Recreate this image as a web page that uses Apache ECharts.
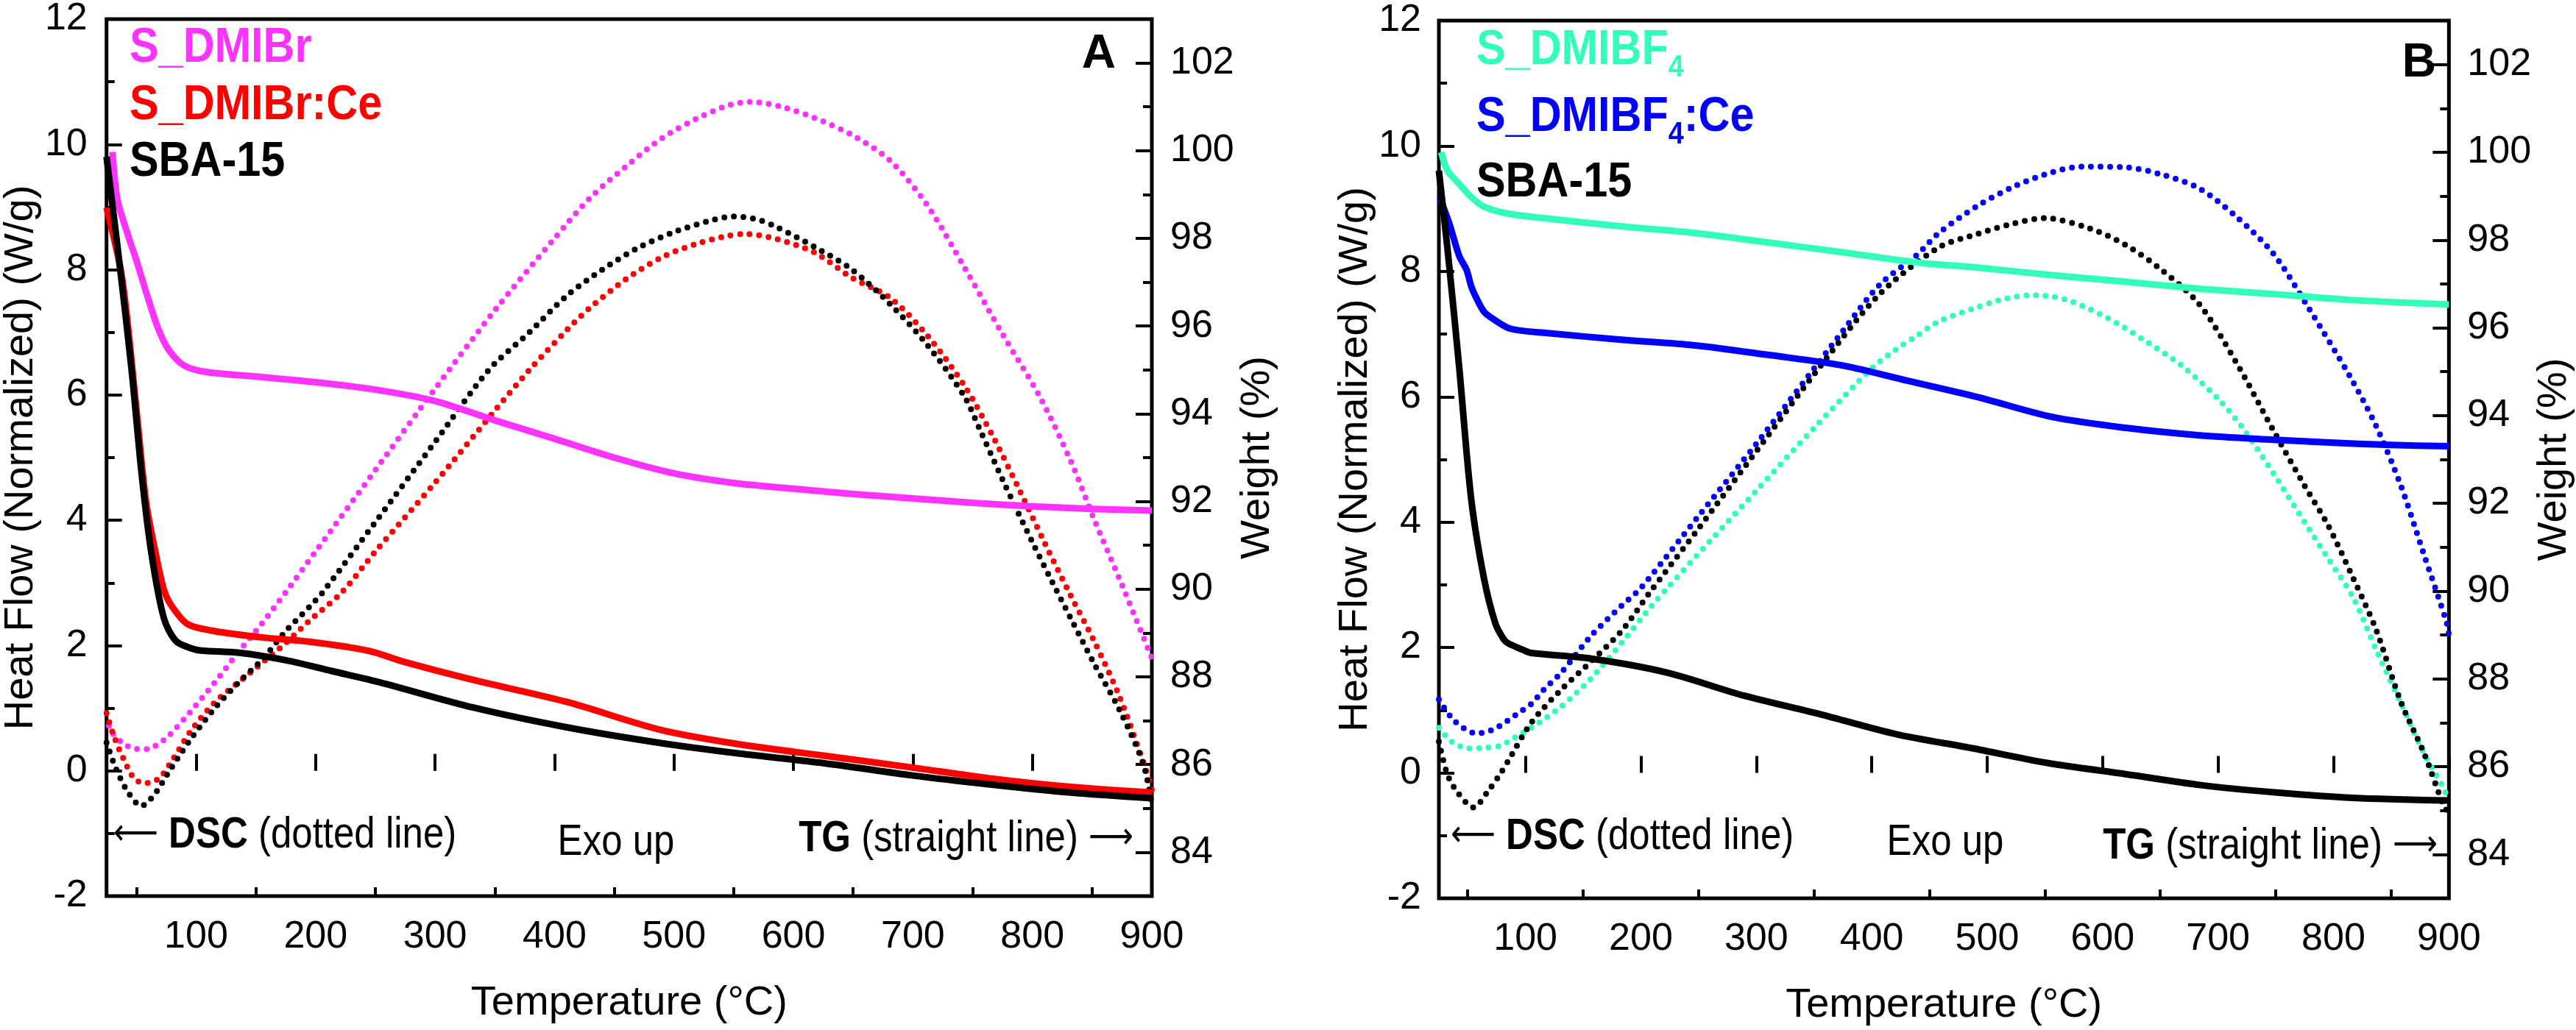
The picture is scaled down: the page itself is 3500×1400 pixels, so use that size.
<!DOCTYPE html>
<html>
<head>
<meta charset="utf-8">
<script src="https://cdn.jsdelivr.net/npm/echarts@6.0.0/dist/echarts.min.js"></script>
<style>
html, body { margin: 0; padding: 0; background: #fff; }
#main { width: 3500px; height: 1400px; }
</style>
</head>
<body>
<div id="main"></div>
<script>
// axis ticks
var tempTicks = [100, 200, 300, 400, 500, 600, 700, 800, 900];
var tempMinor = [50, 150, 250, 350, 450, 550, 650, 750, 850];
var weightTicks = [84, 86, 88, 90, 92, 94, 96, 98, 100, 102];
var weightMinor = [85, 87, 89, 91, 93, 95, 97, 99, 101];

// ---- panel A : TG (weight %, straight lines) ----
var aTgBrT = [30, 34, 43, 50, 59, 68, 77, 90, 109, 150, 200, 250, 300, 350, 400, 450, 500, 550, 600, 650, 700, 750, 800, 850, 900];
var aTgBr  = [99.97, 98.9, 98.07, 97.5, 96.7, 95.96, 95.46, 95.1, 94.95, 94.85, 94.72, 94.55, 94.29, 93.85, 93.43, 93.0, 92.64, 92.42, 92.29, 92.17, 92.07, 91.97, 91.89, 91.83, 91.79];
var aTgCeT = [25, 38, 50, 58, 67, 73, 79, 93, 116, 155, 195, 245, 273, 332, 410, 489, 555, 626, 700, 763, 832, 900];
var aTgCe  = [98.7, 97.1, 94.1, 92.0, 90.7, 89.99, 89.64, 89.2, 89.04, 88.9, 88.8, 88.59, 88.35, 87.93, 87.43, 86.79, 86.46, 86.2, 85.93, 85.69, 85.49, 85.36];
var aTgSbaT = [25, 36, 46, 54.5, 62.5, 73, 83, 96, 104, 136, 175, 214, 253, 332, 410, 489, 555, 626, 700, 763, 832, 900];
var aTgSba  = [99.86, 97.4, 95.0, 92.6, 90.83, 89.34, 88.82, 88.65, 88.6, 88.55, 88.38, 88.13, 87.88, 87.3, 86.85, 86.49, 86.25, 86.03, 85.75, 85.55, 85.36, 85.23];

// ---- panel A : DSC (heat flow, dotted lines) ----
var aDscBrT = [27, 30, 40, 48, 56, 66, 77, 96, 116, 136, 155, 175, 200, 250, 300, 350, 400, 430, 460, 490, 520, 545, 564, 590, 618, 649, 681, 712, 743, 775, 806, 832, 852, 873, 900];
var aDscBr  = [0.72, 0.6, 0.42, 0.36, 0.34, 0.4, 0.56, 0.96, 1.42, 1.91, 2.35, 2.85, 3.5, 4.8, 6.1, 7.35, 8.5, 9.15, 9.65, 10.1, 10.42, 10.62, 10.68, 10.6, 10.42, 10.15, 9.74, 9.03, 8.04, 6.97, 5.98, 4.95, 4.0, 3.06, 1.8];
var aDscCeT = [25, 31, 39, 48, 57, 69, 81, 96, 116, 136, 155, 175, 195, 222, 250, 300, 350, 379, 410, 429, 460, 490, 520, 545, 560, 586, 618, 649, 681, 712, 743, 768, 790, 810, 832, 852, 873, 893, 900];
var aDscCe  = [0.92, 0.56, 0.2, -0.12, -0.2, -0.12, 0.2, 0.65, 1.1, 1.42, 1.72, 2.04, 2.4, 2.85, 3.5, 4.6, 5.75, 6.4, 7.03, 7.38, 7.85, 8.2, 8.42, 8.54, 8.57, 8.49, 8.27, 7.87, 7.55, 6.95, 6.15, 5.3, 4.45, 3.65, 2.8, 2.06, 1.18, 0.13, -0.3];
var aDscSbaT = [25, 33, 43, 54, 65, 77, 96, 116, 136, 155, 175, 195, 206, 250, 300, 345, 379, 410, 440, 470, 500, 530, 550, 570, 586, 618, 649, 681, 712, 743, 756, 775, 800, 817, 832, 852, 873, 893, 900];
var aDscSba  = [0.45, 0.03, -0.34, -0.56, -0.38, -0.02, 0.52, 1.01, 1.42, 1.77, 2.23, 2.62, 2.85, 3.97, 5.25, 6.4, 7.0, 7.58, 8.0, 8.35, 8.6, 8.78, 8.85, 8.8, 8.68, 8.36, 8.0, 7.45, 6.8, 5.98, 5.45, 4.65, 3.65, 3.0, 2.44, 1.7, 0.97, 0.1, -0.55];

// ---- panel B : TG ----
var bTgBfT = [27, 32.5, 42.5, 53, 64, 85, 116, 183, 247, 311, 375, 439, 492, 556, 620, 684, 748, 812, 900];
var bTgBf  = [100.0, 99.58, 99.28, 98.98, 98.76, 98.6, 98.5, 98.31, 98.16, 97.94, 97.72, 97.49, 97.37, 97.2, 97.05, 96.89, 96.77, 96.64, 96.53];
var bTgCeT = [26, 34, 42.6, 49, 53, 58, 64, 71, 87, 119, 183, 247, 311, 375, 430, 492, 556, 620, 684, 748, 800, 850, 900];
var bTgCe  = [98.95, 98.38, 97.64, 97.32, 96.95, 96.65, 96.37, 96.22, 95.98, 95.88, 95.73, 95.6, 95.38, 95.14, 94.8, 94.42, 93.97, 93.72, 93.55, 93.45, 93.38, 93.33, 93.3];
var bTgSbaT = [25, 32.5, 42.6, 53, 64, 74, 81, 85, 98, 105, 157, 223, 289, 356, 421, 487, 553, 620, 685, 751, 817, 900];
var bTgSba  = [99.58, 97.79, 95.1, 92.1, 90.3, 89.26, 88.91, 88.81, 88.66, 88.59, 88.46, 88.14, 87.62, 87.19, 86.74, 86.42, 86.08, 85.83, 85.58, 85.41, 85.29, 85.23];

// ---- panel B : DSC ----
var bDscBfT = [25, 36, 51, 65, 78, 85, 105, 131, 157, 184, 210, 223, 260, 300, 350, 401, 423, 439, 458, 492, 515, 537, 555, 573, 605, 637, 669, 701, 723, 750, 775, 795, 817, 837, 858, 879, 895, 900];
var bDscBf  = [0.72, 0.5, 0.39, 0.4, 0.43, 0.5, 0.72, 1.06, 1.51, 2.09, 2.68, 2.95, 3.7, 4.5, 5.5, 6.47, 6.78, 6.97, 7.2, 7.43, 7.56, 7.62, 7.6, 7.52, 7.25, 6.89, 6.49, 5.95, 5.46, 4.72, 4.0, 3.43, 2.8, 1.96, 1.13, 0.29, -0.23, -0.45];
var bDscCeT = [25, 39, 58, 74, 95, 105, 116, 131, 157, 184, 200, 250, 300, 375, 407, 439, 458, 492, 524, 556, 582, 620, 652, 684, 716, 748, 778, 815, 837, 858, 879, 898, 900];
var bDscCe  = [1.17, 0.82, 0.63, 0.71, 0.97, 1.1, 1.33, 1.6, 2.19, 2.68, 2.95, 4.1, 5.25, 7.05, 7.79, 8.26, 8.61, 9.05, 9.36, 9.58, 9.67, 9.66, 9.54, 9.32, 8.87, 8.28, 7.43, 6.3, 5.53, 4.6, 3.45, 2.4, 2.2];
var bDscSbaT = [25, 32.5, 42, 55, 68, 78, 85, 105, 131, 157, 184, 207, 250, 300, 356, 407, 458, 492, 520, 550, 588, 620, 652, 684, 716, 748, 775, 795, 817, 837, 858, 879, 895, 900];
var bDscSba  = [0.5, -0.03, -0.33, -0.55, -0.28, -0.02, 0.19, 0.8, 1.33, 1.78, 2.28, 2.86, 3.9, 5.13, 6.5, 7.64, 8.38, 8.6, 8.75, 8.85, 8.69, 8.42, 8.01, 7.47, 6.54, 5.46, 4.58, 3.96, 3.11, 2.28, 1.15, 0.29, -0.5, -0.65];

var MAGENTA = '#ff33ff', RED = '#ff0000', BLACK = '#000000', AQUA = '#33ffbb', BLUE = '#0000ff';
var FONT = "'Liberation Sans', Arial, sans-serif";
var ARROW_FONT = "'DejaVu Sans', sans-serif";
var NARROW = 0.85; // squeeze free text to look like the narrow face of the original

function pairs(t, v) {
    return t.map(function (x, i) { return [x, v[i]]; });
}

function xAxes(g) {
    return [{
        gridIndex: g, type: 'value', min: 25, max: 900, position: 'bottom',
        axisLine: { show: false }, splitLine: { show: false },
        axisTick: { inside: true, length: 23, customValues: tempTicks, lineStyle: { color: '#000', width: 4 } },
        axisLabel: { customValues: tempTicks, margin: 30, color: '#000', fontSize: 52, fontFamily: FONT },
        name: 'Temperature (°C)', nameLocation: 'middle', nameGap: 118,
        nameTextStyle: { color: '#000', fontSize: 56, fontFamily: FONT }
    }, {
        gridIndex: g, type: 'value', min: 25, max: 900, position: 'bottom',
        axisLine: { show: false }, splitLine: { show: false }, axisLabel: { show: false },
        axisTick: { inside: true, length: 12, customValues: tempMinor, lineStyle: { color: '#000', width: 4 } }
    }];
}

function yAxes(g, labelGap, nameGap, rightGap) {
    return [{
        gridIndex: g, type: 'value', min: -2, max: 12, interval: 2, position: 'left',
        axisLine: { show: false }, splitLine: { show: false },
        axisTick: { inside: true, length: 21, lineStyle: { color: '#000', width: 4 } },
        minorTick: { show: true, splitNumber: 2, length: 11, lineStyle: { color: '#000', width: 4 } },
        axisLabel: { margin: labelGap, color: '#000', fontSize: 52, fontFamily: FONT },
        name: 'Heat Flow (Normalized) (W/g)', nameLocation: 'middle', nameGap: nameGap, nameRotate: 90,
        nameTextStyle: { color: '#000', fontSize: 56, fontFamily: FONT }
    }, {
        gridIndex: g, type: 'value', min: 83, max: 103, position: 'right',
        axisLine: { show: false }, splitLine: { show: false },
        axisTick: { inside: true, length: 22, customValues: weightTicks, lineStyle: { color: '#000', width: 4 } },
        axisLabel: { customValues: weightTicks, margin: 25, color: '#000', fontSize: 52, fontFamily: FONT },
        name: 'Weight (%)', nameLocation: 'middle', nameGap: rightGap, nameRotate: 90,
        nameTextStyle: { color: '#000', fontSize: 56, fontFamily: FONT }
    }, {
        gridIndex: g, type: 'value', min: 83, max: 103, position: 'right',
        axisLine: { show: false }, splitLine: { show: false }, axisLabel: { show: false },
        axisTick: { inside: true, length: 12, customValues: weightMinor, lineStyle: { color: '#000', width: 4 } }
    }];
}

function dsc(name, t, v, color, xi, yi) {
    return {
        name: name, type: 'line', xAxisIndex: xi, yAxisIndex: yi, data: pairs(t, v),
        showSymbol: false, smooth: 0.3,
        lineStyle: { color: color, width: 8, type: [0, 13], cap: 'round' }
    };
}
function tg(name, t, v, color, xi, yi) {
    return {
        name: name, type: 'line', xAxisIndex: xi, yAxisIndex: yi, data: pairs(t, v),
        showSymbol: false, smooth: 0.3,
        lineStyle: { color: color, width: 9, join: 'round' }
    };
}

function legendLine(x, y, parts, color) {
    // parts: [[text, isSub], ...]
    var txt = parts.map(function (p) { return '{' + (p[1] ? 's' : 'm') + '|' + p[0] + '}'; }).join('');
    return {
        type: 'text', x: x, y: y, scaleX: 0.9,
        style: {
            text: txt, verticalAlign: 'top', align: 'left',
            rich: {
                m: { fontSize: 66, fontWeight: 'bold', fontFamily: FONT, fill: color, lineHeight: 66, verticalAlign: 'top' },
                s: { fontSize: 42, fontWeight: 'bold', fontFamily: FONT, fill: color, lineHeight: 66, verticalAlign: 'top', padding: [35, 0, 0, 0] }
            }
        }
    };
}

function note(x, y, text, align) {
    return {
        type: 'text', x: x, y: y, scaleX: NARROW,
        style: {
            text: text, align: align, verticalAlign: 'middle',
            rich: {
                a: { fontSize: 60, fontFamily: FONT, fill: '#000' },
                b: { fontSize: 60, fontFamily: FONT, fontWeight: 'bold', fill: '#000' },
                r: { fontSize: 50, fontFamily: ARROW_FONT, fill: '#000' }
            }
        }
    };
}

var myChart = echarts.init(document.getElementById('main'), null, { renderer: 'canvas' });

var option = {
    animation: false,
    backgroundColor: '#fff',
    grid: [
        { left: 139, top: 22, width: 1426, height: 1196, show: true, borderColor: '#000', borderWidth: 5, backgroundColor: 'transparent' },
        { left: 1955, top: 28, width: 1393, height: 1194, show: true, borderColor: '#000', borderWidth: 5, backgroundColor: 'transparent' }
    ],
    xAxis: xAxes(0).concat(xAxes(1)),
    yAxis: yAxes(0, 26, 86, 100).concat(yAxes(1, 24, 80, 100)),
    series: [
        dsc('S_DMIBr DSC', aDscBrT, aDscBr, MAGENTA, 0, 0),
        dsc('S_DMIBr:Ce DSC', aDscCeT, aDscCe, RED, 0, 0),
        dsc('SBA-15 DSC', aDscSbaT, aDscSba, BLACK, 0, 0),
        tg('S_DMIBr TG', aTgBrT, aTgBr, MAGENTA, 0, 1),
        tg('S_DMIBr:Ce TG', aTgCeT, aTgCe, RED, 0, 1),
        tg('SBA-15 TG', aTgSbaT, aTgSba, BLACK, 0, 1),

        dsc('S_DMIBF4 DSC', bDscBfT, bDscBf, AQUA, 2, 3),
        dsc('S_DMIBF4:Ce DSC', bDscCeT, bDscCe, BLUE, 2, 3),
        dsc('SBA-15 DSC B', bDscSbaT, bDscSba, BLACK, 2, 3),
        tg('S_DMIBF4 TG', bTgBfT, bTgBf, AQUA, 2, 4),
        tg('S_DMIBF4:Ce TG', bTgCeT, bTgCe, BLUE, 2, 4),
        tg('SBA-15 TG B', bTgSbaT, bTgSba, BLACK, 2, 4)
    ],
    graphic: [
        legendLine(176, 33, [['S_DMIBr']], MAGENTA),
        legendLine(176, 111, [['S_DMIBr:Ce']], RED),
        legendLine(176, 188, [['SBA-15']], BLACK),
        { type: 'text', x: 1516, y: 74, style: { text: 'A', align: 'right', verticalAlign: 'middle', font: 'bold 64px ' + FONT, fill: '#000' } },
        note(154, 1135, '{r|⟵}{a| }{b|DSC}{a| (dotted line)}', 'left'),
        note(837, 1145, '{a|Exo up}', 'center'),
        note(1540, 1140, '{b|TG}{a| (straight line) }{r|⟶}', 'right'),

        legendLine(2006, 36, [['S_DMIBF'], ['4', true]], AQUA),
        legendLine(2006, 127, [['S_DMIBF'], ['4', true], [':Ce']], BLUE),
        legendLine(2006, 216, [['SBA-15']], BLACK),
        { type: 'text', x: 3310, y: 86, style: { text: 'B', align: 'right', verticalAlign: 'middle', font: 'bold 64px ' + FONT, fill: '#000' } },
        note(1971, 1137, '{r|⟵}{a| }{b|DSC}{a| (dotted line)}', 'left'),
        note(2643, 1145, '{a|Exo up}', 'center'),
        note(3312, 1150, '{b|TG}{a| (straight line) }{r|⟶}', 'right')
    ]
};

myChart.setOption(option);

window.addEventListener('resize', function () {
    myChart.resize();
});
</script>
</body>
</html>
